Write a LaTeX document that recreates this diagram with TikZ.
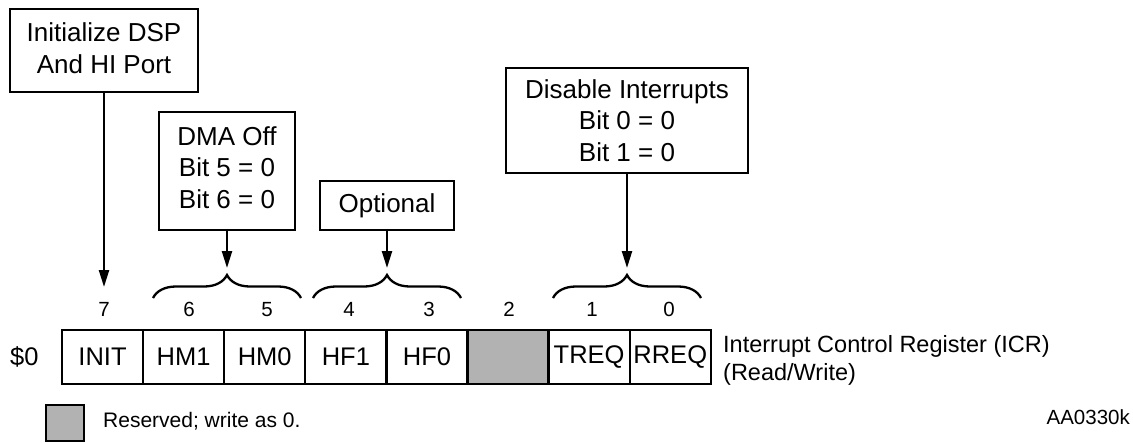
\documentclass[tikz,border=0pt]{standalone}
\usepackage{fontspec}
\setmainfont{Liberation Sans}
\usetikzlibrary{arrows.meta,decorations.pathreplacing}
\tikzset{
  box/.style={draw, line width=2.3pt, inner sep=0pt, align=center, font=\fontsize{26}{31.5}\selectfont},
  cell/.style={draw, line width=2.3pt, minimum width=81.1pt, minimum height=54pt, inner sep=0pt, font=\fontsize{25.5}{30}\selectfont},
  bitnum/.style={anchor=base, inner sep=0pt, font=\fontsize{20.5}{24}\selectfont},
  arr/.style={line width=2.3pt, -{Triangle[length=17pt,width=10pt]}},
  brc/.style={line width=2.3pt, decorate, decoration={brace, amplitude=23pt}},
  reserved/.style={fill=black!30},
}
\begin{document}
\begin{tikzpicture}[x=1pt, y=-1pt]
\useasboundingbox (0,0) rectangle (1133,442);

% annotation boxes
\node[box, minimum width=188pt, minimum height=83pt] (init) at (104,50.5) {Initialize DSP\\And HI Port\rule[-5pt]{0pt}{0pt}};
\node[box, minimum width=136pt, minimum height=118pt] (dma) at (227,171) {DMA Off\\Bit 5 = 0\\Bit 6 = 0\rule[-7pt]{0pt}{0pt}};
\node[box, minimum width=134pt, minimum height=49pt] (opt) at (387,205.5) {Optional};
\node[box, minimum width=242pt, minimum height=105pt] (dis) at (627,120.5) {Disable Interrupts\\Bit 0 = 0\\Bit 1 = 0};

% register cells
\node[cell] (c7) at (102.55,357) {INIT};
\node[cell] (c6) at (183.65,357) {HM1};
\node[cell] (c5) at (264.75,357) {HM0};
\node[cell] (c4) at (345.85,357) {HF1};
\node[cell] (c3) at (426.95,357) {HF0};
\node[cell, reserved] (c2) at (508.05,357) {};
\node[cell] (c1) at (589.15,357) {TREQ};
\node[cell] (c0) at (670.25,357) {RREQ};

% bit numbers
\node[bitnum] (n7) at (104,316) {7};
\node[bitnum] (n6) at (189,316) {6};
\node[bitnum] (n5) at (267,316) {5};
\node[bitnum] (n4) at (349,316) {4};
\node[bitnum] (n3) at (429,316) {3};
\node[bitnum] (n2) at (509,316) {2};
\node[bitnum] (n1) at (592,316) {1};
\node[bitnum] (n0) at (669,316) {0};

% braces
\draw[brc] (153,298) -- (301,298);
\draw[brc] (313,298) -- (461,298);
\draw[brc] (553,298) -- (701,298);

% arrow targets
\coordinate (t7) at (104,287);
\coordinate (t65) at (227,268);
\coordinate (t43) at (387,268);
\coordinate (t10) at (627,268);

\draw[arr] (init.south) -- (t7);
\draw[arr] (dma.south) -- (t65);
\draw[arr] (opt.south) -- (t43);
\draw[arr] (dis.south) -- (t10);

% labels
\node[anchor=west, inner sep=0pt, font=\fontsize{25.5}{30}\selectfont] (addr) at (10,357) {\$0};
\node[anchor=west, align=left, inner sep=0pt, font=\fontsize{23.5}{28}\selectfont] (icr) at (723,360) {Interrupt Control Register (ICR)\\(Read/Write)};

% legend
\node[draw, reserved, line width=2.3pt, minimum width=38pt, minimum height=36pt, inner sep=0pt] (legend) at (65,423) {};
\node[anchor=base west, inner sep=0pt, font=\fontsize{21}{25}\selectfont] (restext) at (103,427) {Reserved; write as 0.};
\node[anchor=base east, inner sep=0pt, font=\fontsize{20.5}{24}\selectfont] (fig) at (1130,424) {AA0330k};
\end{tikzpicture}
\end{document}
